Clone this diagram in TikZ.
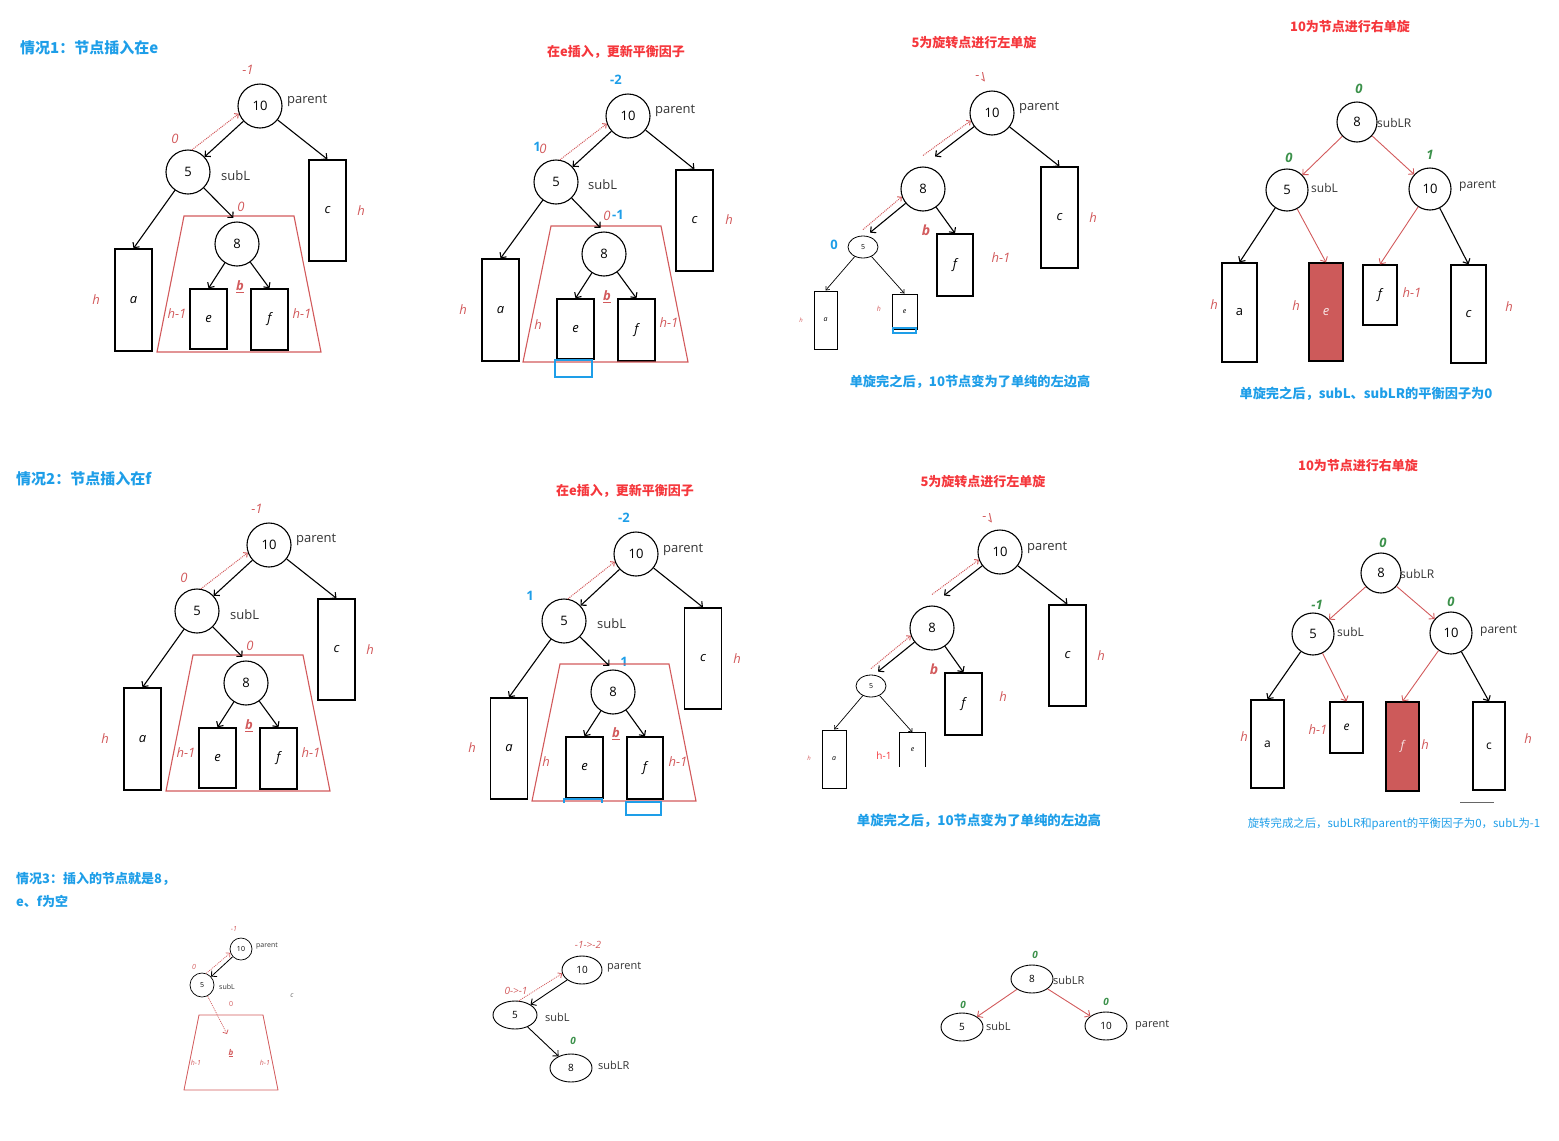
\documentclass[tikz,border=0pt]{standalone}
\usepackage{fontspec}
\usepackage{graphicx}
\setmainfont{Open Sans}
\newfontfamily\cjk{Noto Sans CJK SC}
\usepackage{tikz}
\usetikzlibrary{shapes.geometric, arrows.meta, positioning}
\definecolor{tblue}{RGB}{30,158,232}
\definecolor{tred}{RGB}{245,55,60}
\definecolor{lred}{RGB}{210,90,92}
\definecolor{lgreen}{RGB}{60,145,75}
\definecolor{boxred}{RGB}{205,90,90}

\begin{document}
\begin{tikzpicture}[
    x=1pt, y=-1pt,
    keynode/.style = {circle, draw, line width=1.1pt, minimum size=44pt, inner sep=0pt, font=\fontsize{13}{13}\selectfont},
    flatnode/.style = {ellipse, draw, line width=0.9pt, minimum width=42pt, minimum height=28pt, inner sep=0pt, font=\fontsize{10}{10}\selectfont},
    subtree/.style = {rectangle, draw, line width=1.3pt, inner sep=0pt, font=\fontsize{13}{13}\selectfont\itshape},
    tag/.style = {anchor=west, inner sep=0pt, text=black!80, font=\fontsize{13}{13}\selectfont},
    bal/.style = {text=lred, inner sep=0pt, font=\fontsize{13}{13}\selectfont\itshape},
    blu/.style = {text=tblue, inner sep=0pt, font=\fontsize{13}{13}\selectfont\bfseries},
    grn/.style = {text=lgreen, inner sep=0pt, font=\fontsize{13}{13}\selectfont\bfseries\itshape},
    casetitle/.style = {anchor=west, inner sep=0pt, text=tblue, font=\fontsize{15}{15}\selectfont\cjk\bfseries},
    steptitle/.style = {inner sep=0pt, text=tred, font=\fontsize{13}{13}\selectfont\cjk\bfseries},
    note/.style = {inner sep=0pt, text=tblue, font=\fontsize{13.2}{13.2}\selectfont\cjk\bfseries},
    link/.style = {line width=1.1pt, -{Straight Barb[length=4pt, width=8pt]}},
    thinlink/.style = {line width=0.7pt, -{Straight Barb[length=3pt, width=5pt]}},
    rlink/.style = {line width=0.9pt, draw=lred, -{Straight Barb[length=4pt, width=8pt]}},
    back/.style = {line width=1pt, draw=lred, densely dotted, -{Straight Barb[length=3pt, width=6pt]}},
    cone/.style = {draw=lred, line width=1.1pt},
    hilite/.style = {draw=tblue, line width=2.5pt}
]
    \useasboundingbox (0,0) rectangle (1559,1141);

    % ---------- case 1: insert at e ----------
    \node (t1) [casetitle] at (20,48) {情况1：节点插入在e};
    \node (ten1) [keynode] at (260,106) {10};
    \node [tag] at (287,101) {parent};
    \node (five1) [keynode] at (188,172) {5};
    \node [tag] at (221,176) {subL};
    \node (eight1) [keynode] at (237,244) {8};
    \node (a1) [subtree, minimum width=37pt, minimum height=102pt] at (133.5,300) {a};
    \node (c1) [subtree, minimum width=37pt, minimum height=101pt] at (327.5,210.5) {c};
    \node (e1) [subtree, minimum width=37pt, minimum height=60pt] at (208.5,319) {e};
    \node (f1) [subtree, minimum width=37pt, minimum height=61pt] at (269.5,319.5) {f};
    \node [bal] at (248,70) {-1};
    \node [bal] at (175,139) {0};
    \node [bal] at (241,207) {0};
    \node [bal] at (361,211) {h};
    \node [bal] at (96,300) {h};
    \node [bal] at (177,314) {h-1};
    \node [bal] at (302,314) {h-1};
    \node [bal, font=\fontsize{13}{13}\selectfont\bfseries\itshape] at (240,287) {\underline{b}};
    \draw [cone] (184,216) -- (294,216) -- (321,352) -- (157,352) -- cycle;
    \draw [link] (ten1) -- (five1);
    \draw [back] (five1.80) -- (ten1.200);
    \draw [link] (ten1) -- (c1.north);
    \draw [link] (five1) -- (a1.north);
    \draw [link, shorten >=5pt] (five1) -- (eight1.north);
    \draw [link] (eight1) -- (e1.north);
    \draw [link] (eight1) -- (f1.north);

    % ---------- case 1: update balance factors ----------
    \node (t2) [steptitle] at (616,52) {在e插入，更新平衡因子};
    \node (ten2) [keynode] at (628,116) {10};
    \node [tag] at (655,111) {parent};
    \node (five2) [keynode] at (556,182) {5};
    \node [tag] at (588,185) {subL};
    \node (eight2) [keynode] at (604,254) {8};
    \node (a2) [subtree, minimum width=37pt, minimum height=102pt] at (500.5,310) {a};
    \node (c2) [subtree, minimum width=37pt, minimum height=101pt] at (694.5,220.5) {c};
    \node (e2) [subtree, minimum width=37pt, minimum height=60pt] at (575.5,329) {e};
    \node (f2) [subtree, minimum width=37pt, minimum height=62pt] at (636.5,330) {f};
    \node [blu] at (616,80) {-2};
    \node [blu] at (537,147) {1};
    \node [bal] at (543,149) {0};
    \node [bal] at (607,216) {0};
    \node [blu] at (618,215) {-1};
    \node [bal] at (729,220) {h};
    \node [bal] at (463,310) {h};
    \node [bal] at (538,325) {h};
    \node [bal] at (669,323) {h-1};
    \node [bal, font=\fontsize{13}{13}\selectfont\bfseries\itshape] at (607,297) {\underline{b}};
    \draw [cone] (551,226) -- (661,226) -- (688,362) -- (523,362) -- cycle;
    \draw [hilite] (555,360) rectangle (592,377);
    \draw [link] (ten2) -- (five2);
    \draw [back] (five2.80) -- (ten2.200);
    \draw [link] (ten2) -- (c2.north);
    \draw [link] (five2) -- (a2.north);
    \draw [link, shorten >=5pt] (five2) -- (eight2.north);
    \draw [link] (eight2) -- (e2.north);
    \draw [link] (eight2) -- (f2.north);

    % ---------- case 1: left rotation at 5 ----------
    \node (t3) [steptitle] at (974,43) {5为旋转点进行左单旋};
    \node (ten3) [keynode] at (992,113) {10};
    \node [tag] at (1019,108) {parent};
    \node (eight3) [keynode] at (923,189) {8};
    \node (five3) [ellipse, draw, line width=0.8pt, minimum width=30pt, minimum height=22pt, inner sep=0pt, font=\fontsize{7}{7}\selectfont] at (863,247) {5};
    \node (c3) [subtree, minimum width=37pt, minimum height=101pt] at (1059.5,217.5) {c};
    \node (f3) [subtree, minimum width=36pt, minimum height=62pt] at (955,265) {f};
    \node (a3) [subtree, line width=1pt, minimum width=23pt, minimum height=58pt, font=\fontsize{7}{7}\selectfont\itshape] at (825.5,320) {a};
    \node (e3) [subtree, line width=1pt, minimum width=25pt, minimum height=35pt, font=\fontsize{7}{7}\selectfont\itshape] at (904.5,311.5) {e};
    \node [bal] at (981,77) {\scalebox{1}[-1]{-1}};
    \node [bal] at (1093,218) {h};
    \node [bal] at (1001,258) {h-1};
    \node [bal, font=\fontsize{6}{6}\selectfont\itshape] at (801,320) {h};
    \node [bal, font=\fontsize{7}{7}\selectfont\itshape] at (879,309) {h};
    \node [blu] at (834,245) {0};
    \node [bal, font=\fontsize{14}{14}\selectfont\bfseries\itshape] at (926,230) {b};
    \draw [hilite, line width=2pt] (893,328) rectangle (916,333);
    \draw [back] ([yshift=11pt]eight3.north) -- (ten3.200);
    \draw [link] (ten3) -- ([shift={(12,-10)}]eight3.north);
    \draw [link] (ten3) -- (c3.north);
    \draw [back] ([yshift=6pt]five3.north) -- (eight3.200);
    \draw [link] (eight3) -- ([shift={(7,-3)}]five3.north);
    \draw [link] (eight3) -- (f3.north);
    \draw [thinlink] (five3) -- (a3.north);
    \draw [thinlink] (five3) -- (e3.north);
    \node (n3) [note] at (970,382) {单旋完之后，10节点变为了单纯的左边高};

    % ---------- case 1: right rotation at 10 ----------
    \node (t4) [steptitle] at (1350,27) {10为节点进行右单旋};
    \node (eight4) [keynode, minimum size=40pt] at (1357,122) {8};
    \node [tag, font=\fontsize{12}{12}\selectfont] at (1377,123) {subLR};
    \node (five4) [keynode, minimum size=42pt] at (1287,190) {5};
    \node [tag, font=\fontsize{12}{12}\selectfont] at (1311,188) {subL};
    \node (ten4) [keynode, minimum size=42pt] at (1430,189) {10};
    \node [tag, font=\fontsize{12}{12}\selectfont] at (1459,186) {parent};
    \node (a4) [subtree, minimum width=35pt, minimum height=99pt, font=\fontsize{13}{13}\selectfont] at (1239.5,312.5) {a};
    \node (e4) [subtree, fill=boxred, text=white!85!boxred, minimum width=34pt, minimum height=98pt] at (1326,312) {e};
    \node (f4) [subtree, minimum width=34pt, minimum height=60pt] at (1380,295) {f};
    \node (c4) [subtree, minimum width=35pt, minimum height=98pt] at (1468.5,314) {c};
    \node [grn] at (1359,89) {0};
    \node [grn] at (1289,158) {0};
    \node [grn] at (1430,155) {1};
    \node [bal] at (1214,305) {h};
    \node [bal] at (1296,306) {h};
    \node [bal] at (1412,293) {h-1};
    \node [bal] at (1509,307) {h};
    \draw [rlink] (eight4) -- (five4);
    \draw [rlink] (eight4) -- (ten4);
    \draw [link] (five4) -- (a4.north);
    \draw [rlink] (five4) -- (e4.north);
    \draw [rlink] (ten4) -- (f4.north);
    \draw [link] (ten4) -- (c4.north);
    \node (n4) [note] at (1366,394) {单旋完之后，subL、subLR的平衡因子为0};

    % ---------- case 2: insert at f ----------
    \node (t5) [casetitle] at (16,479) {情况2：节点插入在f};
    \node (ten5) [keynode] at (269,545) {10};
    \node [tag] at (296,540) {parent};
    \node (five5) [keynode] at (197,611) {5};
    \node [tag] at (230,615) {subL};
    \node (eight5) [keynode] at (246,683) {8};
    \node (a5) [subtree, minimum width=37pt, minimum height=102pt] at (142.5,739) {a};
    \node (c5) [subtree, minimum width=37pt, minimum height=101pt] at (336.5,649.5) {c};
    \node (e5) [subtree, minimum width=37pt, minimum height=60pt] at (217.5,758) {e};
    \node (f5) [subtree, minimum width=37pt, minimum height=61pt] at (278.5,758.5) {f};
    \node [bal] at (257,509) {-1};
    \node [bal] at (184,578) {0};
    \node [bal] at (250,646) {0};
    \node [bal] at (370,650) {h};
    \node [bal] at (105,739) {h};
    \node [bal] at (186,753) {h-1};
    \node [bal] at (311,753) {h-1};
    \node [bal, font=\fontsize{13}{13}\selectfont\bfseries\itshape] at (249,726) {\underline{b}};
    \draw [cone] (193,655) -- (303,655) -- (330,791) -- (166,791) -- cycle;
    \draw [link] (ten5) -- (five5);
    \draw [back] (five5.80) -- (ten5.200);
    \draw [link] (ten5) -- (c5.north);
    \draw [link] (five5) -- (a5.north);
    \draw [link, shorten >=5pt] (five5) -- (eight5.north);
    \draw [link] (eight5) -- (e5.north);
    \draw [link] (eight5) -- (f5.north);

    % ---------- case 2: update balance factors ----------
    \node (t6) [steptitle] at (625,491) {在e插入，更新平衡因子};
    \node (ten6) [keynode] at (636,554) {10};
    \node [tag] at (663,550) {parent};
    \node (five6) [keynode] at (564,621) {5};
    \node [tag] at (597,624) {subL};
    \node (eight6) [keynode] at (613,692) {8};
    \node (a6) [subtree, minimum width=37pt, minimum height=101pt] at (509,748.5) {a};
    \node (c6) [subtree, minimum width=37pt, minimum height=101pt] at (703,658.5) {c};
    \node (e6) [subtree, minimum width=37pt, minimum height=61pt] at (584.5,767.5) {e};
    \node (f6) [subtree, minimum width=36pt, minimum height=62pt] at (645,768) {f};
    \node [blu] at (624,518) {-2};
    \node [blu] at (530,596) {1};
    \node [blu] at (624,662) {1};
    \node [bal] at (737,659) {h};
    \node [bal] at (472,748) {h};
    \node [bal] at (546,762) {h};
    \node [bal] at (678,762) {h-1};
    \node [bal, font=\fontsize{13}{13}\selectfont\bfseries\itshape] at (616,734) {\underline{b}};
    \draw [cone] (560,664) -- (669,664) -- (696,801) -- (532,801) -- cycle;
    \draw [hilite] (564,803) -- (564,799) -- (602,799) -- (602,803);
    \draw [hilite] (626,802) rectangle (661,815);
    \draw [link] (ten6) -- (five6);
    \draw [back] (five6.80) -- (ten6.200);
    \draw [link] (ten6) -- (c6.north);
    \draw [link] (five6) -- (a6.north);
    \draw [link, shorten >=5pt] (five6) -- (eight6.north);
    \draw [link] (eight6) -- (e6.north);
    \draw [link] (eight6) -- (f6.north);

    % ---------- case 2: left rotation at 5 ----------
    \node (t7) [steptitle] at (983,482) {5为旋转点进行左单旋};
    \node (ten7) [keynode] at (1000,552) {10};
    \node [tag] at (1027,548) {parent};
    \node (eight7) [keynode] at (932,628) {8};
    \node (five7) [ellipse, draw, line width=0.8pt, minimum width=30pt, minimum height=22pt, inner sep=0pt, font=\fontsize{7}{7}\selectfont] at (871,686) {5};
    \node (c7) [subtree, minimum width=37pt, minimum height=101pt] at (1067.5,655.5) {c};
    \node (f7) [subtree, minimum width=37pt, minimum height=62pt] at (963.5,704) {f};
    \node (a7) [subtree, line width=1pt, minimum width=24pt, minimum height=58pt, font=\fontsize{7}{7}\selectfont\itshape] at (834,759) {a};
    \node (e7) [subtree, draw=none, minimum width=25pt, minimum height=33pt, font=\fontsize{7}{7}\selectfont\itshape] at (912.5,749.5) {e};
    \draw [line width=1pt] (e7.south west) -- (e7.north west) -- (e7.north east) -- (e7.south east);
    \node [bal] at (988,518) {\scalebox{1}[-1]{-1}};
    \node [bal] at (1101,656) {h};
    \node [bal] at (1003,697) {h};
    \node [bal, font=\fontsize{6}{6}\selectfont\itshape] at (809,758) {h};
    \node [text=tred, inner sep=0pt, font=\fontsize{10}{10}\selectfont] at (884,756) {h-1};
    \node [bal, font=\fontsize{14}{14}\selectfont\bfseries\itshape] at (934,669) {b};
    \draw [back] ([yshift=11pt]eight7.north) -- (ten7.200);
    \draw [link] (ten7) -- ([shift={(12,-10)}]eight7.north);
    \draw [link] (ten7) -- (c7.north);
    \draw [back] ([yshift=6pt]five7.north) -- (eight7.200);
    \draw [link] (eight7) -- ([shift={(7,-3)}]five7.north);
    \draw [link] (eight7) -- (f7.north);
    \draw [thinlink] (five7) -- (a7.north);
    \draw [thinlink] (five7) -- (e7.north);
    \node (n7) [note, font=\fontsize{13.4}{13.4}\selectfont\cjk\bfseries] at (979,821) {单旋完之后，10节点变为了单纯的左边高};

    % ---------- case 2: right rotation at 10 ----------
    \node (t8) [steptitle] at (1358,466) {10为节点进行右单旋};
    \node (eight8) [keynode, minimum size=40pt] at (1381,573) {8};
    \node [tag, font=\fontsize{12}{12}\selectfont] at (1400,574) {subLR};
    \node (five8) [keynode, minimum size=42pt] at (1313,634) {5};
    \node [tag, font=\fontsize{12}{12}\selectfont] at (1337,632) {subL};
    \node (ten8) [keynode, minimum size=42pt] at (1451,633) {10};
    \node [tag, font=\fontsize{12}{12}\selectfont] at (1480,631) {parent};
    \node (a8) [subtree, minimum width=33pt, minimum height=88pt, font=\fontsize{12}{12}\selectfont] at (1267.5,744) {a};
    \node (e8) [subtree, minimum width=33pt, minimum height=51pt, font=\fontsize{12}{12}\selectfont\itshape] at (1346.5,727.5) {e};
    \node (f8) [subtree, fill=boxred, text=white!85!boxred, minimum width=33pt, minimum height=89pt, font=\fontsize{12}{12}\selectfont\itshape] at (1402.5,746.5) {f};
    \node (c8) [subtree, minimum width=32pt, minimum height=88pt, font=\fontsize{12}{12}\selectfont] at (1489,746) {c};
    \node [grn] at (1383,543) {0};
    \node [grn] at (1317,605) {-1};
    \node [grn] at (1451,602) {0};
    \node [bal] at (1244,737) {h};
    \node [bal] at (1318,730) {h-1};
    \node [bal] at (1425,745) {h};
    \node [bal] at (1528,739) {h};
    \draw [black!60, line width=1pt] (1460,802) -- (1494,802);
    \draw [rlink] (eight8) -- (five8);
    \draw [rlink] (eight8) -- (ten8);
    \draw [link] (five8) -- (a8.north);
    \draw [rlink] (five8) -- (e8.north);
    \draw [rlink] (ten8) -- (f8.north);
    \draw [link] (ten8) -- (c8.north);
    \node (n8) [note, font=\fontsize{11.4}{11.4}\selectfont\cjk] at (1394,824) {旋转完成之后，subLR和parent的平衡因子为0，subL为-1};

    % ---------- case 3: the new node is 8 ----------
    \node (t9) [casetitle, font=\fontsize{13}{13}\selectfont\cjk\bfseries] at (16,879) {情况3：插入的节点就是8，};
    \node (t9b) [casetitle, font=\fontsize{13}{13}\selectfont\cjk\bfseries] at (16,901) {e、f为空};
    \node (ten9) [keynode, line width=0.7pt, minimum size=22pt, font=\fontsize{7}{7}\selectfont] at (241,949) {10};
    \node [tag, font=\fontsize{7}{7}\selectfont] at (256,946) {parent};
    \node (five9) [keynode, line width=0.7pt, minimum size=24pt, font=\fontsize{7}{7}\selectfont] at (202,985) {5};
    \node [tag, font=\fontsize{7}{7}\selectfont] at (219,987) {subL};
    \coordinate (b9tip) at (227,1034);
    \node [bal, font=\fontsize{7}{7}\selectfont\itshape] at (234,929) {-1};
    \node [bal, font=\fontsize{7}{7}\selectfont\itshape] at (194,967) {0};
    \node [bal, font=\fontsize{7}{7}\selectfont] at (231,1004) {0};
    \node [bal, text=black!60, font=\fontsize{7}{7}\selectfont\itshape] at (292,996) {c};
    \node [bal, font=\fontsize{7}{7}\selectfont\itshape] at (196,1063) {h-1};
    \node [bal, font=\fontsize{7}{7}\selectfont\itshape] at (265,1063) {h-1};
    \node [bal, font=\fontsize{8}{8}\selectfont\bfseries\itshape] at (231,1053) {\underline{b}};
    \draw [cone, line width=0.8pt] (199,1015) -- (263,1015) -- (278,1090) -- (184,1090) -- cycle;
    \draw [link, line width=0.8pt] (ten9) -- (five9);
    \draw [back, line width=0.7pt] (five9.70) -- (ten9.200);
    \draw [back, line width=0.7pt] (five9) -- (b9tip);

    % ---------- case 3: update balance factors ----------
    \node (ten10) [flatnode, minimum width=40pt] at (582,970) {10};
    \node [tag, font=\fontsize{11}{11}\selectfont] at (607,967) {parent};
    \node (five10) [flatnode, minimum width=44pt] at (515,1015) {5};
    \node [tag, font=\fontsize{11}{11}\selectfont] at (545,1017) {subL};
    \node (eight10) [flatnode] at (571,1068) {8};
    \node [tag, font=\fontsize{11}{11}\selectfont] at (598,1065) {subLR};
    \node [bal, font=\fontsize{10}{10}\selectfont\itshape] at (588,945) {-1->-2};
    \node [bal, font=\fontsize{10}{10}\selectfont\itshape] at (516,991) {0->-1};
    \node [grn, font=\fontsize{10}{10}\selectfont\bfseries\itshape] at (573,1041) {0};
    \draw [link, line width=0.9pt] (ten10) -- (five10);
    \draw [back, line width=0.8pt] (five10.75) -- (ten10.190);
    \draw [link, line width=0.9pt] (five10) -- (eight10);

    % ---------- case 3: after double rotation ----------
    \node (eight11) [flatnode] at (1032,979) {8};
    \node [tag, font=\fontsize{11}{11}\selectfont] at (1053,980) {subLR};
    \node (five11) [flatnode] at (962,1027) {5};
    \node [tag, font=\fontsize{11}{11}\selectfont] at (986,1026) {subL};
    \node (ten11) [flatnode] at (1106,1026) {10};
    \node [tag, font=\fontsize{11}{11}\selectfont] at (1135,1025) {parent};
    \node [grn, font=\fontsize{10}{10}\selectfont\bfseries\itshape] at (1035,955) {0};
    \node [grn, font=\fontsize{10}{10}\selectfont\bfseries\itshape] at (963,1005) {0};
    \node [grn, font=\fontsize{10}{10}\selectfont\bfseries\itshape] at (1106,1002) {0};
    \draw [rlink] (eight11) -- (five11);
    \draw [rlink] (eight11) -- (ten11);

\end{tikzpicture}
\end{document}
